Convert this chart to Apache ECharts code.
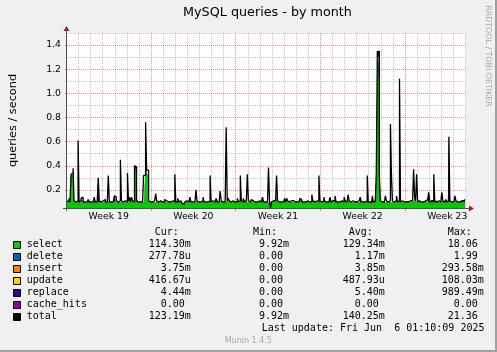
<!DOCTYPE html>
<html><head><meta charset="utf-8">
<script src="https://cdn.jsdelivr.net/npm/echarts@6/dist/echarts.min.js"></script>
<style>html,body{margin:0;padding:0;background:#f0f0f0}#c{width:497px;height:352px}</style>
</head><body><div id="c"></div>
<script>
// ---- categories / labels ----
const seriesNames = ['select','delete','insert','update','replace','cache_hits','total'];
const seriesColors = ['#00CC00','#0066B3','#FF8000','#FFCC00','#330099','#990099','#000000'];
const weekLabels = ['Week 19','Week 20','Week 21','Week 22','Week 23'];
const yTickValues = [0.2,0.4,0.6,0.8,1.0,1.2,1.4];
const yMinorValues = [0.1,0.3,0.5,0.7,0.9,1.1,1.3,1.5];
const curValues = ['114.30m','277.78u','3.75m','416.67u','4.44m','0.00','123.19m'];
const minValues = ['9.92m','0.00','0.00','0.00','0.00','0.00','9.92m'];
const avgValues = ['129.34m','1.17m','3.85m','487.93u','5.40m','0.00','140.25m'];
const maxValues = ['18.06','1.99','293.58m','108.03m','989.49m','0.00','21.36'];
const lastUpdate = 'Last update: Fri Jun  6 01:10:09 2025';

// ---- series values (one value every 2 hours, 12 per line = one day) ----
const stepHours = 2;
const total = [
0.11,0.10,0.13,0.10,0.33,0.34,0.38,0.11,0.10,0.10,0.11,0.61,
0.10,0.11,0.13,0.14,0.10,0.10,0.10,0.10,0.11,0.12,0.10,0.10,
0.10,0.10,0.11,0.14,0.10,0.10,0.11,0.30,0.11,0.10,0.10,0.11,
0.12,0.12,0.10,0.10,0.11,0.32,0.10,0.10,0.11,0.10,0.11,0.15,
0.14,0.11,0.10,0.10,0.11,0.45,0.11,0.10,0.10,0.11,0.10,0.10,
0.34,0.11,0.14,0.10,0.14,0.11,0.10,0.40,0.39,0.11,0.10,0.10,
0.10,0.11,0.10,0.11,0.32,0.32,0.76,0.37,0.36,0.11,0.10,0.11,
0.10,0.10,0.11,0.10,0.17,0.11,0.10,0.10,0.11,0.12,0.10,0.10,
0.10,0.12,0.11,0.10,0.10,0.11,0.10,0.10,0.11,0.10,0.10,0.33,
0.10,0.10,0.13,0.10,0.11,0.10,0.09,0.08,0.09,0.10,0.11,0.10,
0.10,0.11,0.14,0.10,0.10,0.11,0.10,0.10,0.20,0.11,0.10,0.10,
0.10,0.10,0.11,0.14,0.10,0.10,0.11,0.10,0.10,0.11,0.32,0.10,
0.11,0.10,0.10,0.11,0.13,0.10,0.10,0.11,0.19,0.11,0.10,0.10,
0.10,0.11,0.72,0.11,0.13,0.11,0.10,0.10,0.11,0.10,0.10,0.11,
0.10,0.13,0.10,0.11,0.32,0.11,0.10,0.13,0.10,0.11,0.10,0.33,
0.11,0.10,0.11,0.12,0.11,0.10,0.10,0.11,0.10,0.10,0.11,0.10,
0.10,0.11,0.14,0.10,0.10,0.11,0.10,0.10,0.385,0.11,0.05,0.10,
0.11,0.10,0.11,0.10,0.32,0.11,0.10,0.11,0.10,0.11,0.10,0.10,
0.13,0.10,0.13,0.11,0.10,0.10,0.11,0.10,0.11,0.10,0.10,0.11,
0.10,0.10,0.11,0.13,0.12,0.10,0.10,0.11,0.10,0.10,0.11,0.10,
0.10,0.11,0.10,0.16,0.11,0.10,0.10,0.11,0.10,0.10,0.32,0.11,
0.10,0.10,0.11,0.14,0.10,0.10,0.11,0.10,0.10,0.14,0.10,0.11,
0.10,0.11,0.15,0.10,0.10,0.11,0.10,0.10,0.11,0.10,0.10,0.14,
0.11,0.10,0.10,0.16,0.11,0.10,0.10,0.11,0.10,0.10,0.11,0.10,
0.10,0.11,0.10,0.14,0.10,0.10,0.11,0.10,0.10,0.11,0.32,0.10,
0.10,0.11,0.10,0.15,0.10,0.11,0.10,0.35,1.347,1.347,0.32,0.11,
0.10,0.11,0.10,0.10,0.15,0.11,0.10,0.10,0.11,0.745,0.33,0.11,
0.10,0.10,0.11,0.15,0.10,0.11,1.12,0.10,0.11,0.10,0.10,0.11,
0.10,0.11,0.10,0.10,0.11,0.10,0.11,0.12,0.37,0.14,0.11,0.33,
0.10,0.11,0.10,0.10,0.11,0.10,0.10,0.11,0.10,0.12,0.11,0.18,
0.10,0.11,0.10,0.11,0.33,0.11,0.10,0.10,0.11,0.10,0.10,0.11,
0.18,0.11,0.10,0.11,0.12,0.10,0.11,0.64,0.11,0.10,0.11,0.10,
0.10,0.15,0.11,0.10,0.11,0.10,0.10,0.11,0.10,0.11,0.12,0.123
];
const select = [
0.10,0.09,0.12,0.09,0.31,0.32,0.33,0.10,0.09,0.09,0.09,0.09,
0.09,0.09,0.10,0.11,0.09,0.09,0.09,0.09,0.10,0.10,0.09,0.09,
0.09,0.09,0.09,0.10,0.09,0.09,0.09,0.09,0.10,0.09,0.09,0.09,
0.10,0.10,0.09,0.09,0.09,0.09,0.09,0.09,0.10,0.09,0.09,0.09,
0.11,0.09,0.09,0.09,0.09,0.09,0.10,0.09,0.09,0.09,0.09,0.09,
0.09,0.10,0.12,0.09,0.12,0.10,0.09,0.37,0.36,0.10,0.09,0.09,
0.09,0.09,0.09,0.09,0.10,0.11,0.55,0.33,0.32,0.10,0.09,0.09,
0.09,0.09,0.09,0.09,0.10,0.10,0.09,0.09,0.10,0.11,0.09,0.09,
0.09,0.11,0.09,0.09,0.09,0.10,0.09,0.09,0.10,0.09,0.09,0.09,
0.09,0.09,0.11,0.09,0.10,0.09,0.08,0.07,0.08,0.09,0.10,0.09,
0.09,0.10,0.11,0.09,0.09,0.10,0.09,0.09,0.10,0.10,0.09,0.09,
0.09,0.09,0.10,0.12,0.09,0.09,0.10,0.09,0.09,0.10,0.09,0.09,
0.10,0.09,0.09,0.10,0.11,0.09,0.09,0.10,0.09,0.10,0.09,0.09,
0.09,0.10,0.09,0.10,0.12,0.10,0.09,0.09,0.10,0.09,0.09,0.10,
0.09,0.11,0.09,0.10,0.09,0.10,0.09,0.11,0.09,0.10,0.09,0.09,
0.10,0.09,0.10,0.11,0.10,0.09,0.09,0.10,0.09,0.09,0.10,0.09,
0.09,0.10,0.12,0.09,0.09,0.10,0.09,0.09,0.09,0.10,0.04,0.09,
0.10,0.09,0.10,0.09,0.14,0.10,0.09,0.10,0.09,0.10,0.09,0.09,
0.11,0.09,0.11,0.10,0.09,0.09,0.10,0.09,0.10,0.09,0.09,0.10,
0.09,0.09,0.10,0.11,0.11,0.09,0.09,0.10,0.09,0.09,0.10,0.09,
0.09,0.10,0.09,0.11,0.10,0.09,0.09,0.10,0.09,0.09,0.09,0.10,
0.09,0.09,0.10,0.12,0.09,0.09,0.10,0.09,0.09,0.12,0.09,0.10,
0.09,0.10,0.12,0.09,0.09,0.10,0.09,0.09,0.10,0.09,0.09,0.12,
0.10,0.09,0.09,0.11,0.10,0.09,0.09,0.10,0.09,0.09,0.10,0.09,
0.09,0.10,0.09,0.09,0.09,0.09,0.10,0.09,0.09,0.10,0.09,0.09,
0.09,0.10,0.09,0.09,0.09,0.10,0.09,0.25,1.13,1.13,0.10,0.10,
0.09,0.10,0.09,0.09,0.10,0.10,0.09,0.09,0.10,0.09,0.09,0.10,
0.09,0.09,0.10,0.11,0.09,0.10,0.09,0.09,0.10,0.09,0.09,0.10,
0.09,0.10,0.09,0.09,0.10,0.09,0.10,0.11,0.09,0.13,0.10,0.09,
0.09,0.10,0.09,0.09,0.10,0.09,0.09,0.10,0.09,0.11,0.10,0.09,
0.09,0.10,0.09,0.10,0.09,0.10,0.09,0.09,0.10,0.09,0.09,0.10,
0.10,0.10,0.09,0.10,0.11,0.09,0.10,0.09,0.10,0.09,0.10,0.09,
0.09,0.10,0.10,0.09,0.10,0.09,0.09,0.10,0.09,0.10,0.11,0.114
];
const del = [
0,0,0,0,0,0,0,0,0,0,0,0,
0,0,0,0,0,0,0,0,0,0,0,0,
0,0,0,0,0,0,0,0,0,0,0,0,
0,0,0,0,0,0,0,0,0,0,0,0,
0,0,0,0,0,0,0,0,0,0,0,0,
0,0,0,0,0,0,0,0,0,0,0,0,
0,0,0,0,0,0,0,0,0,0,0,0,
0,0,0,0,0,0,0,0,0,0,0,0,
0,0,0,0,0,0,0,0,0,0,0,0,
0,0,0,0,0,0,0,0,0,0,0,0,
0,0,0,0,0,0,0,0,0,0,0,0,
0,0,0,0,0,0,0,0,0,0,0,0,
0,0,0,0,0,0,0,0,0,0,0,0,
0,0,0,0,0,0,0,0,0,0,0,0,
0,0,0,0,0,0,0,0,0,0,0,0,
0,0,0,0,0,0,0,0,0,0,0,0,
0,0,0,0,0,0,0,0,0,0,0,0,
0,0,0,0,0,0,0,0,0,0,0,0,
0,0,0,0,0,0,0,0,0,0,0,0,
0,0,0,0,0,0,0,0,0,0,0,0,
0,0,0,0,0,0,0,0,0,0,0,0,
0,0,0,0,0,0,0,0,0,0,0,0,
0,0,0,0,0,0,0,0,0,0,0,0,
0,0,0,0,0,0,0,0,0,0,0,0,
0,0,0,0,0,0,0,0,0,0,0,0,
0,0,0,0,0,0,0,0,0.125,0.125,0,0,
0,0,0,0,0,0,0,0,0,0,0,0,
0,0,0,0,0,0,0,0,0,0,0,0,
0,0,0,0,0,0,0,0,0,0,0,0,
0,0,0,0,0,0,0,0,0,0,0,0,
0,0,0,0,0,0,0,0,0,0,0,0,
0,0,0,0,0,0,0,0,0,0,0,0,
0,0,0,0,0,0,0,0,0,0,0,0.0003
];
const insert = [
0.004,0.004,0.004,0.004,0.004,0.004,0.004,0.004,0.004,0.004,0.004,0.004,
0.004,0.004,0.004,0.004,0.004,0.004,0.004,0.004,0.004,0.004,0.004,0.004,
0.004,0.004,0.004,0.004,0.004,0.004,0.004,0.004,0.004,0.004,0.004,0.004,
0.004,0.004,0.004,0.004,0.004,0.004,0.004,0.004,0.004,0.004,0.004,0.004,
0.004,0.004,0.004,0.004,0.004,0.004,0.004,0.004,0.004,0.004,0.004,0.004,
0.004,0.004,0.004,0.004,0.004,0.004,0.004,0.004,0.004,0.004,0.004,0.004,
0.004,0.004,0.004,0.004,0.004,0.004,0.004,0.004,0.004,0.004,0.004,0.004,
0.004,0.004,0.004,0.004,0.004,0.004,0.004,0.004,0.004,0.004,0.004,0.004,
0.004,0.004,0.004,0.004,0.004,0.004,0.004,0.004,0.004,0.004,0.004,0.004,
0.004,0.004,0.004,0.004,0.004,0.004,0.004,0.004,0.004,0.004,0.004,0.004,
0.004,0.004,0.004,0.004,0.004,0.004,0.004,0.004,0.004,0.004,0.004,0.004,
0.004,0.004,0.004,0.004,0.004,0.004,0.004,0.004,0.004,0.004,0.004,0.004,
0.004,0.004,0.004,0.004,0.004,0.004,0.004,0.004,0.004,0.004,0.004,0.004,
0.004,0.004,0.004,0.004,0.004,0.004,0.004,0.004,0.004,0.004,0.004,0.004,
0.004,0.004,0.004,0.004,0.004,0.004,0.004,0.004,0.004,0.004,0.004,0.004,
0.004,0.004,0.004,0.004,0.004,0.004,0.004,0.004,0.004,0.004,0.004,0.004,
0.004,0.004,0.004,0.004,0.004,0.004,0.004,0.004,0.004,0.004,0.004,0.004,
0.004,0.004,0.004,0.004,0.004,0.004,0.004,0.004,0.004,0.004,0.004,0.004,
0.004,0.004,0.004,0.004,0.004,0.004,0.004,0.004,0.004,0.004,0.004,0.004,
0.004,0.004,0.004,0.004,0.004,0.004,0.004,0.004,0.004,0.004,0.004,0.004,
0.004,0.004,0.004,0.004,0.004,0.004,0.004,0.004,0.004,0.004,0.004,0.004,
0.004,0.004,0.004,0.004,0.004,0.004,0.004,0.004,0.004,0.004,0.004,0.004,
0.004,0.004,0.004,0.004,0.004,0.004,0.004,0.004,0.004,0.004,0.004,0.004,
0.004,0.004,0.004,0.004,0.004,0.004,0.004,0.004,0.004,0.004,0.004,0.004,
0.004,0.004,0.004,0.004,0.004,0.004,0.004,0.004,0.004,0.004,0.004,0.004,
0.004,0.004,0.004,0.004,0.004,0.004,0.004,0.004,0.033,0.033,0.004,0.004,
0.004,0.004,0.004,0.004,0.004,0.004,0.004,0.004,0.004,0.004,0.004,0.004,
0.004,0.004,0.004,0.004,0.004,0.004,0.004,0.004,0.004,0.004,0.004,0.004,
0.004,0.004,0.004,0.004,0.004,0.004,0.004,0.004,0.004,0.004,0.004,0.004,
0.004,0.004,0.004,0.004,0.004,0.004,0.004,0.004,0.004,0.004,0.004,0.004,
0.004,0.004,0.004,0.004,0.004,0.004,0.004,0.004,0.004,0.004,0.004,0.004,
0.004,0.004,0.004,0.004,0.004,0.004,0.004,0.004,0.004,0.004,0.004,0.004,
0.004,0.004,0.004,0.004,0.004,0.004,0.004,0.004,0.004,0.004,0.004,0.00375
];
const update = [
0,0,0,0,0,0,0,0,0,0,0,0,
0,0,0,0,0,0,0,0,0,0,0,0,
0,0,0,0,0,0,0,0,0,0,0,0,
0,0,0,0,0,0,0,0,0,0,0,0,
0,0,0,0,0,0,0,0,0,0,0,0,
0,0,0,0,0,0,0,0,0,0,0,0,
0,0,0,0,0,0,0,0,0,0,0,0,
0,0,0,0,0,0,0,0,0,0,0,0,
0,0,0,0,0,0,0,0,0,0,0,0,
0,0,0,0,0,0,0,0,0,0,0,0,
0,0,0,0,0,0,0,0,0,0,0,0,
0,0,0,0,0,0,0,0,0,0,0,0,
0,0,0,0,0,0,0,0,0,0,0,0,
0,0,0,0,0,0,0,0,0,0,0,0,
0,0,0,0,0,0,0,0,0,0,0,0,
0,0,0,0,0,0,0,0,0,0,0,0,
0,0,0,0,0,0,0,0,0,0,0,0,
0,0,0,0,0,0,0,0,0,0,0,0,
0,0,0,0,0,0,0,0,0,0,0,0,
0,0,0,0,0,0,0,0,0,0,0,0,
0,0,0,0,0,0,0,0,0,0,0,0,
0,0,0,0,0,0,0,0,0,0,0,0,
0,0,0,0,0,0,0,0,0,0,0,0,
0,0,0,0,0,0,0,0,0,0,0,0,
0,0,0,0,0,0,0,0,0,0,0,0,
0,0,0,0,0,0,0,0,0.008,0.008,0,0,
0,0,0,0,0,0,0,0,0,0,0,0,
0,0,0,0,0,0,0,0,0,0,0,0,
0,0,0,0,0,0,0,0,0,0,0,0,
0,0,0,0,0,0,0,0,0,0,0,0,
0,0,0,0,0,0,0,0,0,0,0,0,
0,0,0,0,0,0,0,0,0,0,0,0,
0,0,0,0,0,0,0,0,0,0,0,0.0004
];
const replace = [
0.002,0.002,0.002,0.002,0.002,0.002,0.05,0.002,0.002,0.002,0.002,0.52,
0.002,0.002,0.002,0.002,0.002,0.002,0.002,0.002,0.002,0.002,0.002,0.002,
0.002,0.002,0.002,0.002,0.002,0.002,0.002,0.21,0.002,0.002,0.002,0.002,
0.002,0.002,0.002,0.002,0.002,0.002,0.002,0.002,0.002,0.002,0.002,0.06,
0.002,0.002,0.002,0.002,0.002,0.002,0.002,0.002,0.002,0.002,0.002,0.002,
0.002,0.002,0.002,0.002,0.002,0.002,0.002,0.03,0.03,0.002,0.002,0.002,
0.002,0.002,0.002,0.002,0.002,0.002,0.002,0.002,0.002,0.002,0.002,0.002,
0.002,0.002,0.002,0.002,0.002,0.002,0.002,0.002,0.002,0.002,0.002,0.002,
0.002,0.002,0.002,0.002,0.002,0.002,0.002,0.002,0.002,0.002,0.002,0.002,
0.002,0.002,0.002,0.002,0.002,0.002,0.002,0.002,0.002,0.002,0.002,0.002,
0.002,0.002,0.002,0.002,0.002,0.002,0.002,0.002,0.002,0.002,0.002,0.002,
0.002,0.002,0.002,0.002,0.002,0.002,0.002,0.002,0.002,0.002,0.002,0.002,
0.002,0.002,0.002,0.002,0.002,0.002,0.002,0.002,0.002,0.002,0.002,0.002,
0.002,0.002,0.002,0.002,0.002,0.002,0.002,0.002,0.002,0.002,0.002,0.002,
0.002,0.002,0.002,0.002,0.002,0.002,0.002,0.002,0.002,0.002,0.002,0.002,
0.002,0.002,0.002,0.002,0.002,0.002,0.002,0.002,0.002,0.002,0.002,0.002,
0.002,0.002,0.002,0.002,0.002,0.002,0.002,0.002,0.002,0.002,0.002,0.002,
0.002,0.002,0.002,0.002,0.002,0.002,0.002,0.002,0.002,0.002,0.002,0.002,
0.002,0.002,0.002,0.002,0.002,0.002,0.002,0.002,0.002,0.002,0.002,0.002,
0.002,0.002,0.002,0.002,0.002,0.002,0.002,0.002,0.002,0.002,0.002,0.002,
0.002,0.002,0.002,0.002,0.002,0.002,0.002,0.002,0.002,0.002,0.002,0.002,
0.002,0.002,0.002,0.002,0.002,0.002,0.002,0.002,0.002,0.002,0.002,0.002,
0.002,0.002,0.002,0.002,0.002,0.002,0.002,0.002,0.002,0.002,0.002,0.002,
0.002,0.002,0.002,0.002,0.002,0.002,0.002,0.002,0.002,0.002,0.002,0.002,
0.002,0.002,0.002,0.05,0.002,0.002,0.002,0.002,0.002,0.002,0.002,0.002,
0.002,0.002,0.002,0.06,0.002,0.002,0.002,0.002,0.055,0.055,0.002,0.002,
0.002,0.002,0.002,0.002,0.002,0.002,0.002,0.002,0.002,0.002,0.002,0.002,
0.002,0.002,0.002,0.002,0.002,0.002,0.002,0.002,0.002,0.002,0.002,0.002,
0.002,0.002,0.002,0.002,0.002,0.002,0.002,0.002,0.002,0.002,0.002,0.002,
0.002,0.002,0.002,0.002,0.002,0.002,0.002,0.002,0.002,0.002,0.002,0.09,
0.002,0.002,0.002,0.002,0.002,0.002,0.002,0.002,0.002,0.002,0.002,0.002,
0.002,0.002,0.002,0.002,0.002,0.002,0.002,0.55,0.002,0.002,0.002,0.002,
0.002,0.002,0.002,0.002,0.002,0.002,0.002,0.002,0.002,0.002,0.002,0.0044
];
const cacheHits = [
0,0,0,0,0,0,0,0,0,0,0,0,
0,0,0,0,0,0,0,0,0,0,0,0,
0,0,0,0,0,0,0,0,0,0,0,0,
0,0,0,0,0,0,0,0,0,0,0,0,
0,0,0,0,0,0,0,0,0,0,0,0,
0,0,0,0,0,0,0,0,0,0,0,0,
0,0,0,0,0,0,0,0,0,0,0,0,
0,0,0,0,0,0,0,0,0,0,0,0,
0,0,0,0,0,0,0,0,0,0,0,0,
0,0,0,0,0,0,0,0,0,0,0,0,
0,0,0,0,0,0,0,0,0,0,0,0,
0,0,0,0,0,0,0,0,0,0,0,0,
0,0,0,0,0,0,0,0,0,0,0,0,
0,0,0,0,0,0,0,0,0,0,0,0,
0,0,0,0,0,0,0,0,0,0,0,0,
0,0,0,0,0,0,0,0,0,0,0,0,
0,0,0,0,0,0,0,0,0,0,0,0,
0,0,0,0,0,0,0,0,0,0,0,0,
0,0,0,0,0,0,0,0,0,0,0,0,
0,0,0,0,0,0,0,0,0,0,0,0,
0,0,0,0,0,0,0,0,0,0,0,0,
0,0,0,0,0,0,0,0,0,0,0,0,
0,0,0,0,0,0,0,0,0,0,0,0,
0,0,0,0,0,0,0,0,0,0,0,0,
0,0,0,0,0,0,0,0,0,0,0,0,
0,0,0,0,0,0,0,0,0,0,0,0,
0,0,0,0,0,0,0,0,0,0,0,0,
0,0,0,0,0,0,0,0,0,0,0,0,
0,0,0,0,0,0,0,0,0,0,0,0,
0,0,0,0,0,0,0,0,0,0,0,0,
0,0,0,0,0,0,0,0,0,0,0,0,
0,0,0,0,0,0,0,0,0,0,0,0,
0,0,0,0,0,0,0,0,0,0,0,0
];

// ---- time axis (hours since graph start, Sun May 4 01:10:09) ----
const rangeHours = 33 * 24;
const startOffsetHours = 1 + 10 / 60 + 9 / 3600;   // start time after local midnight
const hours = total.map((_, i) => i * stepHours);
const dayLines = [];
for (let k = 1; k <= 33; k++) dayLines.push({ h: 24 * k - startOffsetHours, week: k % 7 === 0 });
const weekLabelHours = weekLabels.map((_, j) => (7 * j + 3.5) * 24 - startOffsetHours);
const weekLineHours = dayLines.filter(d => d.week).map(d => d.h);

// stacked (cumulative) tops, as in rrdtool AREA + STACK
const stackArrays = [select, del, insert, update, replace, cacheHits];
const cumulative = [];
stackArrays.forEach((arr, k) => {
  cumulative.push(arr.map((v, i) => (k ? cumulative[k - 1][i] : 0) + v));
});

const chart = echarts.init(document.getElementById('c'), null, { renderer: 'canvas' });

const minorCol = 'rgba(130,130,130,0.45)';
const majorCol = 'rgba(255,0,0,0.45)';
const gridMarks = []
  .concat(dayLines.map(d => ({ xAxis: d.h, lineStyle: { color: d.week ? majorCol : minorCol, type: [1, 1], width: 1 } })))
  .concat(yMinorValues.map(v => ({ yAxis: v, lineStyle: { color: minorCol, type: [1, 1], width: 1 } })))
  .concat(yTickValues.map(v => ({ yAxis: v, lineStyle: { color: majorCol, type: [1, 1], width: 1 } })));

const series = [];
// grid lines carrier (drawn below the data)
series.push({
  name: 'grid', type: 'line', data: [], silent: true, z: 1,
  markLine: { silent: true, z: 1, symbol: ['none', 'none'], label: { show: false }, animation: false,
    emphasis: { disabled: true }, data: gridMarks }
});
// areas: highest cumulative first, each filled down to the axis bottom
for (let k = stackArrays.length - 1; k >= 0; k--) {
  series.push({
    name: seriesNames[k], type: 'line', step: 'end',
    data: hours.map((h, i) => [h, cumulative[k][i]]),
    showSymbol: false, symbol: 'none', silent: true, z: 2,
    lineStyle: { width: 0, color: seriesColors[k] },
    itemStyle: { color: seriesColors[k] },
    areaStyle: { color: seriesColors[k], opacity: 1, origin: 'start' },
    emphasis: { disabled: true }
  });
}
series.push({
  name: 'total', type: 'line', step: 'end', data: hours.map((h, i) => [h, total[i]]),
  showSymbol: false, symbol: 'none', silent: true, z: 3,
  lineStyle: { width: 1.3, color: '#000' }, itemStyle: { color: '#000' }, emphasis: { disabled: true }
});

// ---- legend / statistics block (text) ----
const mono = 'DejaVu Sans Mono';
const sans = 'DejaVu Sans';
const charW = 6.02;
const colStart = { cur: 148.7, min: 247, avg: 342.7, max: 441.7 };
const pad7 = s => (/[0-9]$/.test(s) ? s + ' ' : s).padStart(7, ' ');
const g = [];
const rowY0 = 244.8, rowH = 12;
function txt(text, x, y, opt) {
  return Object.assign({ type: 'text', x, y, silent: true,
    style: Object.assign({ text, fill: '#000', fontFamily: mono, fontSize: 10, align: 'left', verticalAlign: 'middle' }, opt || {}) });
}
g.push(txt('Cur:', colStart.cur + charW, 232.7));
g.push(txt('Min:', colStart.min + charW, 232.7));
g.push(txt('Avg:', colStart.avg + charW, 232.7));
g.push(txt('Max:', colStart.max + charW, 232.7));
seriesNames.forEach((n, k) => {
  const y = rowY0 + k * rowH;
  g.push({ type: 'rect', silent: true, shape: { x: 13.5, y: Math.round(y) - 3.5, width: 7, height: 7 },
    style: { fill: seriesColors[k], stroke: '#000', lineWidth: 1 } });
  g.push(txt(n, 26.7, y));
  g.push(txt(pad7(curValues[k]), colStart.cur, y));
  g.push(txt(pad7(minValues[k]), colStart.min, y));
  g.push(txt(pad7(avgValues[k]), colStart.avg, y));
  g.push(txt(pad7(maxValues[k]), colStart.max, y));
});
g.push(txt(lastUpdate, 261.7, 328.6));
g.push(txt('Munin 1.4.5', 248.3, 341, { fontFamily: sans, fontSize: 8, fill: '#a8a8a8', align: 'center' }));
g.push(txt('RRDTOOL / TOBI OETIKER', 488.5, 56, { fontFamily: sans, fontSize: 7.9, fill: '#a8a8a8', align: 'center' }));
g[g.length - 1].rotation = -Math.PI / 2;
// axes lines and arrows
g.push({ type: 'line', silent: true, shape: { x1: 63, y1: 208.5, x2: 470, y2: 208.5 }, style: { stroke: '#505050', lineWidth: 1 } });
g.push({ type: 'line', silent: true, shape: { x1: 66.5, y1: 211, x2: 66.5, y2: 30 }, style: { stroke: '#505050', lineWidth: 1 } });
g.push({ type: 'polygon', silent: true, shape: { points: [[63.5, 31], [69.5, 31], [66.5, 26]] }, style: { fill: '#a02020' } });
g.push({ type: 'polygon', silent: true, shape: { points: [[469, 205.5], [469, 211.5], [474, 208.5]] }, style: { fill: '#a02020' } });
// frame
g.push({ type: 'rect', silent: true, shape: { x: 0, y: 350, width: 497, height: 2 }, style: { fill: '#a0a0a0' } });
g.push({ type: 'rect', silent: true, shape: { x: 495, y: 0, width: 2, height: 352 }, style: { fill: '#a0a0a0' } });

chart.setOption({
  animation: false,
  backgroundColor: '#f0f0f0',
  title: { text: 'MySQL queries - by month', left: 267.5, top: 6, padding: 0, textAlign: 'center',
    textStyle: { fontFamily: sans, fontSize: 12.75, fontWeight: 'normal', color: '#000' } },
  grid: { left: 66, right: 31, top: 33, bottom: 144, show: true, backgroundColor: '#ffffff', borderWidth: 0, containLabel: false },
  xAxis: {
    type: 'value', min: 0, max: rangeHours,
    axisLine: { show: false },
    splitLine: { show: false },
    axisTick: { show: true, customValues: weekLineHours, length: 3, lineStyle: { color: 'rgba(255,0,0,0.5)' } },
    axisLabel: { customValues: weekLabelHours, margin: 4, fontFamily: sans, fontSize: 9.3, color: '#000',
      formatter: v => { const i = weekLabelHours.findIndex(h => Math.abs(h - v) < 0.01); return i >= 0 ? weekLabels[i] : ''; } }
  },
  yAxis: {
    type: 'value', min: 0.05, max: 1.5,
    name: 'queries / second', nameLocation: 'middle', nameRotate: 90, nameGap: 48,
    nameTextStyle: { fontFamily: sans, fontSize: 11.3, color: '#000' },
    axisLine: { show: false },
    splitLine: { show: false },
    axisTick: { show: true, customValues: yTickValues, length: 2, lineStyle: { color: 'rgba(255,0,0,0.5)' } },
    axisLabel: { customValues: yTickValues, margin: 6, fontFamily: sans, fontSize: 9.3, color: '#000', formatter: v => v.toFixed(1) }
  },
  series,
  graphic: g
});
</script>
</body></html>
